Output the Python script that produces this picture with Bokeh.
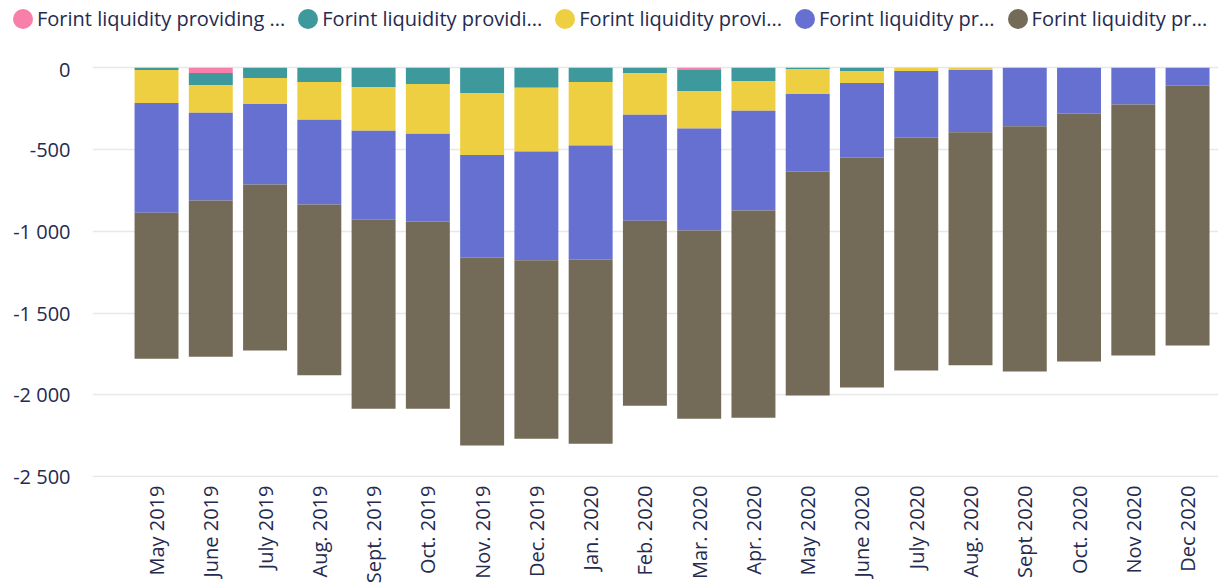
import math
from bokeh.plotting import figure
from bokeh.layouts import column
from bokeh.models import ColumnDataSource, Legend, LegendItem, FixedTicker, Range1d
from bokeh.embed import file_html
from bokeh.resources import INLINE

months = ["May 2019", "June 2019", "July 2019", "Aug. 2019", "Sept. 2019", "Oct. 2019",
          "Nov. 2019", "Dec. 2019", "Jan. 2020", "Feb. 2020", "Mar. 2020", "Apr. 2020",
          "May 2020", "June 2020", "July 2020", "Aug. 2020", "Sept 2020", "Oct. 2020",
          "Nov 2020", "Dec 2020"]

series_labels = ["Forint liquidity providing ...", "Forint liquidity providi...",
                 "Forint liquidity provi...", "Forint liquidity pr...", "Forint liquidity pr..."]

s1_pink = [0, -32, 0, 0, 0, 0, 0, 0, 0, 0, -14, 0, 0, 0, 0, 0, 0, 0, 0, 0]
s2_teal = [-14, -73, -63, -87, -117, -99, -154, -123, -87, -32, -128, -81, -8, -20, 0, 0, 0, 0, 0, 0]
s3_yellow = [-201, -170, -158, -231, -268, -304, -380, -389, -389, -255, -230, -182, -152, -73,
             -20, -14, 0, 0, 0, 0]
s4_blue = [-671, -537, -493, -518, -545, -538, -627, -665, -697, -648, -624, -610, -474, -456,
           -407, -380, -357, -280, -225, -108]
s5_brown = [-893, -955, -1016, -1045, -1155, -1144, -1150, -1092, -1126, -1132, -1150, -1267,
            -1371, -1407, -1425, -1426, -1501, -1517, -1535, -1591]

y_ticks = [-2500, -2000, -1500, -1000, -500, 0]

colors = ["#F97FAB", "#3D999C", "#EFCF42", "#6670D1", "#736B58"]
keys = ["s1", "s2", "s3", "s4", "s5"]

TEXT = "#252A4F"
FONT = "Open Sans"
FS = "20px"

idx = list(range(len(months)))
src = ColumnDataSource(dict(x=idx, s1=s1_pink, s2=s2_teal, s3=s3_yellow, s4=s4_blue, s5=s5_brown))

# ---- legend strip ----
lg = figure(width=1218, height=55, x_range=Range1d(0, 1), y_range=Range1d(0, 1),
            output_backend="svg", toolbar_location=None, x_axis_type=None, y_axis_type=None,
            min_border=0, min_border_left=0, min_border_right=0, min_border_top=0,
            min_border_bottom=0)
lg.frame_align = False
lg.outline_line_color = None
lg.xgrid.visible = False
lg.ygrid.visible = False
proxies = []
for c in colors:
    r = lg.ellipse(x=[-1], y=[-1], width=0.001, height=0.001, width_units="screen",
                   height_units="screen", fill_color=c, line_color=None)
    proxies.append(r)
legend = Legend(items=[LegendItem(label=l, renderers=[r]) for l, r in zip(series_labels, proxies)],
                orientation="horizontal", location=(10, 23),
                glyph_width=25, glyph_height=25, label_standoff=2, spacing=10,
                padding=0, margin=0, border_line_color=None, background_fill_alpha=0,
                label_text_font=FONT, label_text_font_size=FS, label_text_color=TEXT,
                label_height=24)
lg.add_layout(legend, "center")

# ---- main chart ----
p = figure(width=1218, height=532, x_range=Range1d(-1.18, 19.57), y_range=Range1d(-2506, 75),
           output_backend="svg", toolbar_location=None,
           min_border_left=92, min_border_right=0, min_border_top=0, min_border_bottom=110)
p.frame_align = False
p.outline_line_color = None

p.vbar_stack(keys, x="x", width=0.81, color=colors, source=src, line_width=0)

p.xgrid.grid_line_color = None
p.ygrid.grid_line_color = "#E8E8E8"
p.ygrid.grid_line_width = 1.5
p.ygrid.ticker = FixedTicker(ticks=y_ticks)

p.yaxis.ticker = FixedTicker(ticks=y_ticks)
p.yaxis.major_label_overrides = {t: f"{t:,}".replace(",", " ") for t in y_ticks}
p.xaxis.ticker = FixedTicker(ticks=idx)
p.xaxis.major_label_overrides = {i: m for i, m in zip(idx, months)}
p.xaxis.major_label_orientation = math.pi / 2

for ax in (p.xaxis, p.yaxis):
    ax.axis_line_color = None
    ax.major_tick_line_color = None
    ax.minor_tick_line_color = None
    ax.major_tick_out = 0
    ax.major_tick_in = 0
    ax.minor_tick_out = 0
    ax.minor_tick_in = 0
    ax.major_label_text_font = FONT
    ax.major_label_text_font_size = FS
    ax.major_label_text_color = TEXT
p.yaxis.major_label_standoff = 22
p.xaxis.major_label_standoff = 8

layout = column(lg, p, spacing=0)
open("out.html", "w").write(file_html(layout, INLINE))
